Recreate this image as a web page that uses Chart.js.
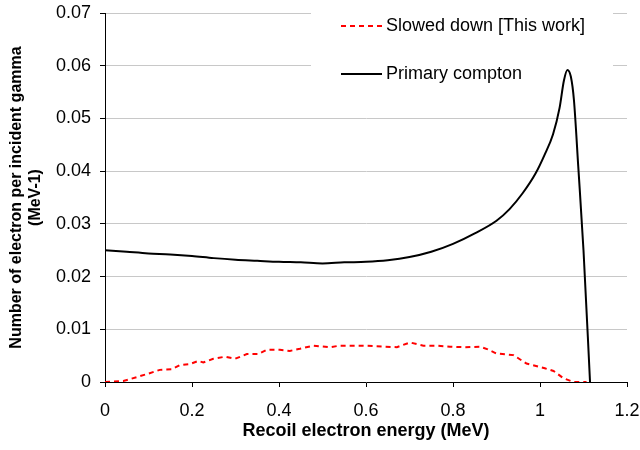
<!DOCTYPE html>
<html>
<head>
<meta charset="utf-8">
<script src="https://cdn.jsdelivr.net/npm/chart.js@4/dist/chart.umd.min.js"></script>
<style>
html,body{margin:0;padding:0;background:#fff;}
canvas{display:block;}
</style>
</head>
<body>
<canvas id="c" width="640" height="450"></canvas>
<script>
const seriesNames = ['Slowed down [This work]', 'Primary compton'];

const slowedX = [0, 0.02, 0.042, 0.06, 0.08, 0.1, 0.126, 0.153, 0.172, 0.195, 0.215, 0.226, 0.249, 0.276, 0.299, 0.326, 0.352, 0.372, 0.402, 0.425, 0.448, 0.479, 0.517, 0.540, 0.594, 0.621, 0.671, 0.701, 0.732, 0.762, 0.793, 0.828, 0.862, 0.88, 0.9, 0.939, 0.969, 1.011, 1.031, 1.054, 1.077, 1.107];
const slowedY = [0, 0.0001, 0.0002, 0.0006, 0.0011, 0.0016, 0.0023, 0.0024, 0.0032, 0.0034, 0.0040, 0.0037, 0.0044, 0.0048, 0.0044, 0.0053, 0.0053, 0.0061, 0.0061, 0.0059, 0.0063, 0.0069, 0.0066, 0.0069, 0.0069, 0.0068, 0.0066, 0.0075, 0.0069, 0.0069, 0.0067, 0.0066, 0.0067, 0.0062, 0.0054, 0.0051, 0.0035, 0.0026, 0.0021, 0.0007, 0, 0];

const primaryX = [0, 0.05, 0.1, 0.15, 0.2, 0.25, 0.3, 0.35, 0.4, 0.45, 0.5, 0.55, 0.6, 0.65, 0.7, 0.75, 0.8, 0.85, 0.9, 0.93, 0.96, 0.99, 1.01, 1.03, 1.045, 1.055, 1.063, 1.071, 1.078, 1.088, 1.1, 1.115];
const primaryY = [0.0250, 0.0247, 0.0244, 0.0242, 0.0239, 0.0235, 0.0232, 0.0230, 0.0228, 0.0227, 0.0225, 0.0227, 0.0228, 0.0231, 0.0237, 0.0247, 0.0262, 0.0282, 0.0306, 0.0328, 0.0358, 0.0396, 0.0430, 0.0470, 0.0520, 0.0572, 0.0592, 0.0579, 0.0535, 0.0408, 0.0250, 0];

const xTickValues = [0, 0.2, 0.4, 0.6, 0.8, 1, 1.2];
const xTickLabels = ['0', '0.2', '0.4', '0.6', '0.8', '1', '1.2'];
const yTickValues = [0, 0.01, 0.02, 0.03, 0.04, 0.05, 0.06, 0.07];
const yTickLabels = ['0', '0.01', '0.02', '0.03', '0.04', '0.05', '0.06', '0.07'];

const xTitle = 'Recoil electron energy (MeV)';
const yTitle = ['Number of electron per incident gamma', '(MeV-1)'];

const FONT = "Arial, 'Liberation Sans', sans-serif";

const toPts = (xs, ys) => xs.map((x, i) => ({x: x, y: ys[i]}));

const legendPlugin = {
  id: 'innerLegend',
  beforeDatasetsDraw(chart) {
    const ctx = chart.ctx;
    ctx.save();
    ctx.fillStyle = '#ffffff';
    ctx.fillRect(311, 0, 302, 104);
    ctx.restore();
  },
  afterDatasetsDraw(chart) {
    const ctx = chart.ctx;
    const items = [
      {y: 26, ds: chart.data.datasets[0]},
      {y: 74, ds: chart.data.datasets[1]}
    ];
    ctx.save();
    items.forEach(it => {
      ctx.beginPath();
      ctx.strokeStyle = it.ds.borderColor;
      ctx.lineWidth = 2;
      ctx.setLineDash(it.ds.borderDash || []);
      ctx.moveTo(341, it.y);
      ctx.lineTo(382, it.y);
      ctx.stroke();
      ctx.setLineDash([]);
      ctx.fillStyle = '#000';
      ctx.font = '18px ' + FONT;
      ctx.textBaseline = 'middle';
      ctx.textAlign = 'left';
      ctx.fillText(it.ds.label, 386, it.y);
    });
    ctx.restore();
  }
};

new Chart(document.getElementById('c'), {
  type: 'line',
  data: {
    datasets: [
      {
        label: seriesNames[0],
        data: toPts(slowedX, slowedY),
        borderColor: '#ff0000',
        borderWidth: 2,
        borderDash: [5, 4],
        pointRadius: 0,
        tension: 0,
        fill: false
      },
      {
        label: seriesNames[1],
        data: toPts(primaryX, primaryY),
        borderColor: '#000000',
        borderWidth: 2,
        pointRadius: 0,
        cubicInterpolationMode: 'monotone',
        fill: false
      }
    ]
  },
  options: {
    responsive: false,
    animation: false,
    layout: {padding: {left: 0, right: 13, top: 13, bottom: 0}},
    plugins: {
      legend: {display: false},
      tooltip: {enabled: false}
    },
    scales: {
      x: {
        type: 'linear',
        min: 0,
        max: 1.2,
        afterBuildTicks: s => { s.ticks = xTickValues.map(v => ({value: v})); },
        afterFit: s => { s.height = 68; s.paddingLeft = 0; s.paddingRight = 0; },
        ticks: {
          callback: (v, i) => xTickLabels[i],
          color: '#000',
          font: {family: FONT, size: 18},
          padding: 13,
          maxRotation: 0,
          autoSkip: false
        },
        grid: {
          drawOnChartArea: false,
          drawTicks: true,
          tickLength: 5,
          tickColor: '#000',
          color: '#000'
        },
        border: {display: true, color: '#000', width: 1},
        title: {
          display: true,
          text: xTitle,
          color: '#000',
          font: {family: FONT, size: 18, weight: 'bold'},
          padding: {top: 0, bottom: 8}
        }
      },
      y: {
        type: 'linear',
        min: 0,
        max: 0.07,
        afterBuildTicks: s => { s.ticks = yTickValues.map(v => ({value: v})); },
        afterFit: s => { s.width = 105; s.paddingTop = 0; s.paddingBottom = 0; },
        ticks: {
          callback: (v, i) => yTickLabels[i],
          color: '#000',
          font: {family: FONT, size: 18},
          padding: 9,
          autoSkip: false
        },
        grid: {
          color: c => (c.tick && c.tick.value === 0) ? 'rgba(0,0,0,0)' : '#c8c8c8',
          lineWidth: 1,
          drawTicks: true,
          tickLength: 5,
          tickColor: '#000'
        },
        border: {display: true, color: '#000', width: 1},
        title: {
          display: true,
          text: yTitle,
          color: '#000',
          font: {family: FONT, size: 16, weight: 'bold', lineHeight: 1.2},
          padding: {top: 7, bottom: 0}
        }
      }
    }
  },
  plugins: [legendPlugin]
});
</script>
</body>
</html>
